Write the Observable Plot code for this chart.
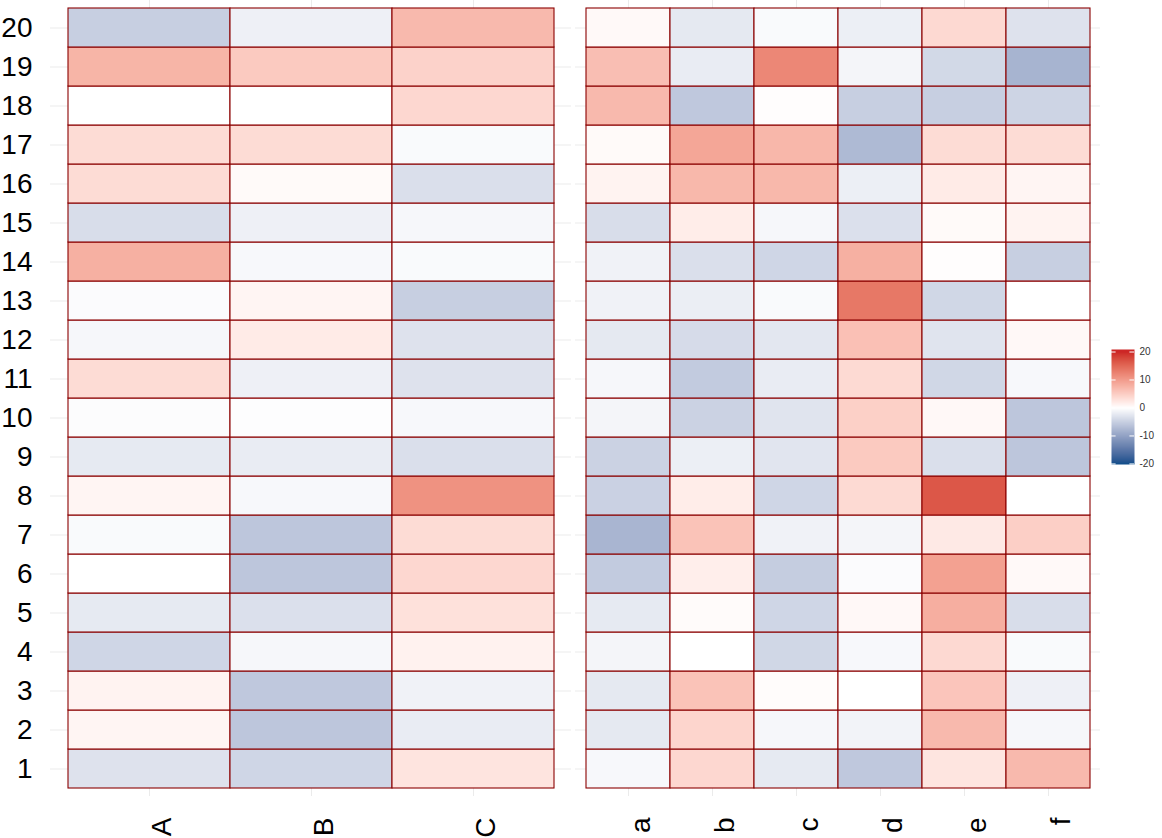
<!DOCTYPE html>
<html><head><meta charset="utf-8">
<script src="https://cdn.jsdelivr.net/npm/d3@7"></script>
<script src="https://cdn.jsdelivr.net/npm/@observablehq/plot@0.6"></script>
<style>
body{margin:0;background:#fff;}
#wrap{position:relative;width:1162px;height:838px;overflow:hidden;background:#fff;}
#wrap > div{position:absolute;top:0;}
</style></head><body>
<div id="wrap"><div id="left" style="left:0px"></div><div id="right" style="left:575px"></div><div id="legend" style="left:1100px"></div></div>
<script>
// ---- data ----
const rows = [1,2,3,4,5,6,7,8,9,10,11,12,13,14,15,16,17,18,19,20];
const colsLeft = ["A","B","C"];
const colsRight = ["a","b","c","d","e","f"];
// values by row 1..20
const valA = [-3, 1, 1.2, -4.3, -2.2, 0, -0.5, 1, -2.2, -0.3, 3.5, -0.8, -0.4, 8, -3.5, 3.5, 3.5, 0, 7.5, -5];
const valB = [-4.3, -6, -5.8, -0.8, -3.2, -6, -6, -0.7, -2, -0.2, -1.5, 2, 1, -0.7, -1.5, 0.5, 3.5, 0, 5.3, -1.5];
const valC = [2.7, -2, -1.3, 1.3, 3, 4, 3.5, 11, -3.3, -0.7, -3, -3, -5, -0.5, -0.8, -3.3, -0.5, 4, 4.5, 7];
const vala = [-0.7, -2.3, -2.3, -1, -2.2, -5.5, -7.8, -4.8, -4.7, -1, -0.8, -2.3, -1.3, -1.3, -3.5, 1.2, 0.5, 7, 6.5, 0.6];
const valb = [4, 4.2, 6, 0, 0.4, 1.7, 6, 1.8, -1.7, -4.7, -5.5, -3.7, -1.8, -3.3, 1.8, 7.2, 9, -5.8, -2, -2.3];
const valc = [-2.2, -0.8, 0.3, -4.2, -4.3, -5.2, -1.3, -4.3, -2.7, -2.8, -2, -2.5, -0.5, -4.3, -0.8, 7.2, 7.3, 0.2, 12, -0.5];
const vald = [-5.8, -1.2, 0, -0.7, 0.7, -0.4, -1, 3.7, 5.3, 4.7, 3.7, 6.3, 13.5, 8, -3.2, -1.7, -7.3, -5, -1, -1.7];
const vale = [2.6, 7, 5.8, 3.8, 8.2, 9.5, 2.2, 16.5, -3.3, 0.7, -4.2, -2.8, -4.2, 0.2, 0.5, 2, 3.5, -5, -4, 3.8];
const valf = [7, -0.8, -1.5, -0.5, -3.5, 0.6, 4.8, 0, -6, -6, -0.7, 0.7, 0, -5, 1.2, 1, 3.5, -4.5, -8, -3];
const legendTicks = [-20, -10, 0, 10, 20];
const legendLimits = [-20, 20];

// ---- tables ----
const leftSeries = {A: valA, B: valB, C: valC};
const rightSeries = {a: vala, b: valb, c: valc, d: vald, e: vale, f: valf};
const toTable = (cols, series) => cols.flatMap(c => rows.map((r, i) => ({col: c, row: r, value: series[c][i]})));
const leftData = toTable(colsLeft, leftSeries);
const rightData = toTable(colsRight, rightSeries);

const colorOpts = {type: "linear", domain: [legendLimits[0], 0, legendLimits[1]], range: ["#104E8B", "#ffffff", "#CD2626"], interpolate: "lab", clamp: true};
const font = "'Liberation Sans', Arial, sans-serif";
const rowsTop = [...rows].reverse();

function panel(cols, data, {width, marginLeft, marginRight, padX, yLabels}) {
  const marks = [
    Plot.gridY({stroke: "#ebebeb", strokeOpacity: 1, strokeWidth: 1}),
    Plot.gridX({stroke: "#ebebeb", strokeOpacity: 1, strokeWidth: 1}),
    Plot.cell(data, {x: "col", y: "row", fill: "value", stroke: "#8B0000", strokeWidth: 1.1, inset: 0}),
    Plot.text(cols, {x: d => d, text: d => d, frameAnchor: "bottom", rotate: -90, textAnchor: "end", lineAnchor: "top", dy: 21, dx: 2, fontSize: 28, fill: "#000"})
  ];
  if (yLabels) {
    marks.push(Plot.text(rows, {y: d => d, text: d => String(d), frameAnchor: "left", textAnchor: "end", dx: -18, fontSize: 28, fill: "#000"}));
  }
  return Plot.plot({
    width, height: 838,
    marginTop: 0, marginBottom: 42, marginLeft, marginRight,
    style: {fontFamily: font, background: "white", overflow: "visible"},
    x: {type: "band", domain: cols, paddingInner: 0, paddingOuter: padX, axis: null},
    y: {type: "band", domain: rowsTop, paddingInner: 0, paddingOuter: 0.15, axis: null},
    color: colorOpts,
    marks
  });
}

document.getElementById("left").append(panel(colsLeft, leftData, {width: 575, marginLeft: 50, marginRight: 4, padX: 0.1, yLabels: true}));
document.getElementById("right").append(panel(colsRight, rightData, {width: 525, marginLeft: 0, marginRight: 0, padX: 0.125, yLabels: false}));

const legend = Plot.plot({
  width: 62, height: 838,
  marginTop: 349, marginBottom: 374, marginLeft: 11, marginRight: 28,
  style: {fontFamily: font, background: "white", overflow: "visible"},
  x: {domain: [0, 1], axis: null},
  y: {domain: [-20.2, 20.9], axis: null},
  color: colorOpts,
  marks: [
    Plot.raster({x1: 0, x2: 1, y1: -20.2, y2: 20.9, fill: (x, y) => y, width: 4, height: 230}),
    Plot.ruleY(legendTicks, {y: d => d, x1: 0, x2: 0.2, stroke: "white", strokeWidth: 1}),
    Plot.ruleY(legendTicks, {y: d => d, x1: 0.8, x2: 1, stroke: "white", strokeWidth: 1}),
    Plot.text(legendTicks, {y: d => d, text: d => String(d), frameAnchor: "right", textAnchor: "start", dx: 5, fontSize: 10, fill: "#333"})
  ]
});
document.getElementById("legend").append(legend);
</script>
</body></html>
